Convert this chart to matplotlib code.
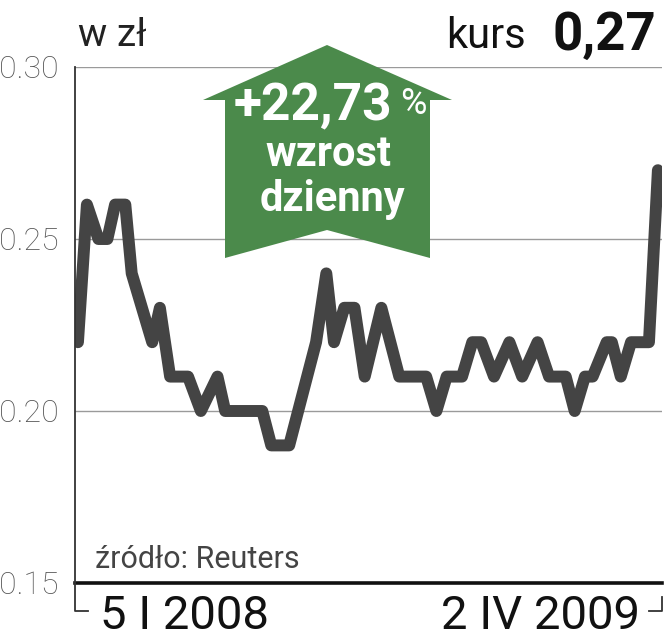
import matplotlib
matplotlib.use("Agg")
import matplotlib.pyplot as plt
from matplotlib import font_manager
from matplotlib.patches import Polygon
from matplotlib.lines import Line2D
import pandas as pd

# ---- data ----
dates = ["2008-01-05", "2008-01-12", "2008-01-21", "2008-01-28", "2008-02-03",
         "2008-02-11", "2008-02-16", "2008-03-03", "2008-03-09", "2008-03-17",
         "2008-03-31", "2008-04-10", "2008-04-23", "2008-04-29", "2008-05-28",
         "2008-06-04", "2008-06-18", "2008-07-09", "2008-07-17", "2008-07-23",
         "2008-07-31", "2008-08-08", "2008-08-16", "2008-08-29", "2008-09-12",
         "2008-10-03", "2008-10-11", "2008-10-19", "2008-10-31", "2008-11-08",
         "2008-11-15", "2008-11-25", "2008-12-07", "2008-12-17", "2008-12-29",
         "2009-01-07", "2009-01-20", "2009-01-27", "2009-02-04", "2009-02-10",
         "2009-02-21", "2009-02-25", "2009-03-04", "2009-03-12", "2009-03-26",
         "2009-04-02"]
prices = [0.22, 0.26, 0.25, 0.25, 0.26,
          0.26, 0.24, 0.22, 0.23, 0.21,
          0.21, 0.20, 0.21, 0.20, 0.20,
          0.19, 0.19, 0.22, 0.24, 0.22,
          0.23, 0.23, 0.21, 0.23, 0.21,
          0.21, 0.20, 0.21, 0.21, 0.22,
          0.22, 0.21, 0.22, 0.21, 0.22,
          0.21, 0.21, 0.20, 0.21, 0.21,
          0.22, 0.22, 0.21, 0.22, 0.22,
          0.27]
y_ticks = [0.15, 0.20, 0.25, 0.30]
y_tick_labels = ["0.15", "0.20", "0.25", "0.30"]
x_start_label = "5 I 2008"
x_end_label = "2 IV 2009"
unit_label = "w zł"
kurs_label = "kurs"
kurs_value = "0,27"
change_label = "+22,73"
change_pct = "%"
change_line2 = "wzrost"
change_line3 = "dzienny"
source_label = "źródło: Reuters"

# ---- fonts ----
available = {f.name for f in font_manager.fontManager.ttflist}
narrow = "Liberation Sans Narrow" if "Liberation Sans Narrow" in available else "Roboto"
plt.rcParams['font.family'] = [narrow, 'DejaVu Sans']

W, H = 665, 640
fig = plt.figure(figsize=(W / 100, H / 100), dpi=100)
fig.patch.set_facecolor("white")

def fx(px):
    return px / W

def fy(py):
    return 1 - py / H

ax_left, ax_right, ax_top, ax_bottom = 75, 662, 67, 583
ax = fig.add_axes([fx(ax_left), fy(ax_bottom), fx(ax_right - ax_left), (ax_bottom - ax_top) / H])

x = pd.to_datetime(dates)
d0 = pd.Timestamp("2008-01-05")
d1 = pd.Timestamp("2009-04-02")
ax.set_xlim(d0 - pd.Timedelta(days=2.3), d1 + pd.Timedelta(days=3.2))
ax.set_ylim(0.15, 0.30)

for yv in y_ticks[1:]:
    ax.axhline(yv, color="#9a9a9a", lw=1.0, zorder=1)

ax.plot(x, prices, color="#444444", lw=8.6, solid_joinstyle="round",
        solid_capstyle="round", zorder=3)

for s in ["top", "right", "left"]:
    ax.spines[s].set_visible(False)
ax.spines["bottom"].set_color("#111111")
ax.spines["bottom"].set_linewidth(2.6)
ax.set_xticks([])
ax.set_yticks(y_ticks)
ax.set_yticklabels(y_tick_labels, fontsize=23, color="#555555")
ax.tick_params(axis="y", length=0, pad=12)
for lbl in ax.get_yticklabels():
    lbl.set_fontweight("light")

# left axis line with bottom brackets
fig.add_artist(Line2D([fx(75), fx(75), fx(88)], [fy(67), fy(611), fy(611)],
                      color="#333333", lw=1.3))
fig.add_artist(Line2D([fx(649), fx(662), fx(662)], [fy(611), fy(611), fy(597)],
                      color="#333333", lw=1.3))

# green arrow
arrow_pts = [(327, 45), (452, 100), (430, 100), (430, 258), (327, 230),
             (225, 258), (225, 100), (203, 100)]
fig.add_artist(Polygon([(fx(a), fy(b)) for a, b in arrow_pts], closed=True,
                       facecolor="#4b8a4b", edgecolor="none", zorder=5))

fig.text(fx(313), fy(106), change_label, fontsize=37, fontweight="bold",
         color="white", ha="center", va="center", zorder=6)
fig.text(fx(413), fy(104), change_pct, fontsize=26, color="white",
         ha="center", va="center", zorder=6)
fig.text(fx(328), fy(155), change_line2, fontsize=30, fontweight="bold",
         color="white", ha="center", va="center", zorder=6)
fig.text(fx(332), fy(199), change_line3, fontsize=30, fontweight="bold",
         color="white", ha="center", va="center", zorder=6)

# headings
fig.text(fx(78), fy(35), unit_label, fontsize=28, color="#222222",
         ha="left", va="center")
fig.text(fx(526), fy(36), kurs_label, fontsize=30, color="#111111",
         ha="right", va="center")
fig.text(fx(656), fy(35), kurs_value, fontsize=38, fontweight="bold",
         color="#111111", ha="right", va="center")

fig.text(fx(95), fy(560), source_label, fontsize=22, color="#444444",
         ha="left", va="center")

fig.text(fx(100), fy(616), x_start_label, fontsize=34,
         color="#111111", ha="left", va="center")
fig.text(fx(640), fy(616), x_end_label, fontsize=34,
         color="#111111", ha="right", va="center")

fig.savefig("out.png", dpi=100, facecolor="white")
